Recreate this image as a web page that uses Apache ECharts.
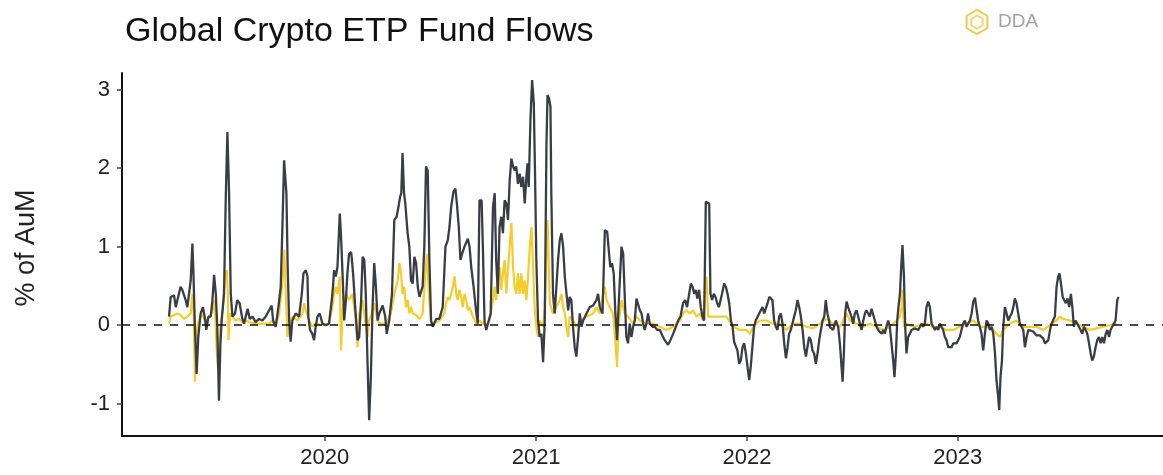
<!DOCTYPE html>
<html><head><meta charset="utf-8">
<script src="https://cdn.jsdelivr.net/npm/echarts@6/dist/echarts.min.js"></script>
<style>html,body{margin:0;padding:0;background:#fff}#c{width:1163px;height:475px}</style>
</head><body><div id="c"></div>
<script>
// Dates are fractional years; values are % of AuM
const rollingFlows = [
[2019.261,0.11],[2019.269,0.36],[2019.277,0.35],[2019.285,0.38],[2019.293,0.23],[2019.301,0.32],[2019.316,0.49],[2019.324,0.45],[2019.340,0.32],[2019.348,0.23],[2019.356,0.40],[2019.364,0.57],[2019.372,1.04],[2019.377,0.66],[2019.383,0.06],[2019.392,-0.62],[2019.400,-0.15],[2019.411,0.15],[2019.422,0.23],[2019.432,0.08],[2019.438,-0.06],[2019.448,0.11],[2019.459,0.11],[2019.467,0.32],[2019.475,0.64],[2019.483,0.40],[2019.490,-0.02],[2019.498,-0.96],[2019.505,-0.23],[2019.511,0.06],[2019.522,0.40],[2019.530,1.59],[2019.538,2.46],[2019.546,1.68],[2019.554,0.40],[2019.562,0.11],[2019.574,0.15],[2019.585,0.32],[2019.596,0.28],[2019.609,0.08],[2019.617,0.02],[2019.625,0.11],[2019.634,0.21],[2019.644,0.08],[2019.657,0.11],[2019.672,0.04],[2019.688,0.08],[2019.704,0.06],[2019.720,0.11],[2019.736,0.19],[2019.748,0.25],[2019.755,0.06],[2019.767,-0.02],[2019.780,0.23],[2019.791,0.49],[2019.799,1.25],[2019.807,2.10],[2019.812,2.12],[2019.818,1.68],[2019.824,0.74],[2019.831,0.06],[2019.838,-0.21],[2019.846,0.06],[2019.862,0.15],[2019.878,0.11],[2019.891,0.40],[2019.899,0.66],[2019.910,0.70],[2019.918,0.62],[2019.922,0.11],[2019.930,-0.06],[2019.941,-0.11],[2019.949,-0.19],[2019.957,-0.02],[2019.965,0.11],[2019.976,0.15],[2019.989,0.02],[2020.005,0.00],[2020.020,0.02],[2020.033,0.32],[2020.039,0.49],[2020.044,0.70],[2020.052,0.62],[2020.060,0.74],[2020.071,1.42],[2020.077,1.13],[2020.084,0.66],[2020.092,0.06],[2020.100,0.32],[2020.107,0.66],[2020.115,0.91],[2020.125,0.93],[2020.134,0.66],[2020.144,0.23],[2020.155,-0.19],[2020.163,-0.15],[2020.172,0.32],[2020.179,0.87],[2020.187,0.83],[2020.194,0.40],[2020.202,-0.45],[2020.210,-1.21],[2020.218,-0.66],[2020.226,0.23],[2020.234,0.79],[2020.242,0.49],[2020.250,0.06],
[2020.258,0.15],[2020.274,0.25],[2020.286,0.11],[2020.293,-0.11],[2020.305,0.06],[2020.318,0.40],[2020.329,1.34],[2020.340,1.38],[2020.349,1.51],[2020.356,1.63],[2020.362,1.68],[2020.368,2.19],[2020.375,1.68],[2020.381,1.55],[2020.392,1.17],[2020.400,1.00],[2020.408,0.57],[2020.416,0.53],[2020.424,0.87],[2020.432,0.79],[2020.440,0.49],[2020.448,0.36],[2020.455,0.34],[2020.463,0.49],[2020.471,1.00],[2020.479,2.02],[2020.487,1.97],[2020.495,0.83],[2020.503,0.06],[2020.511,-0.02],[2020.519,0.00],[2020.527,0.08],[2020.542,0.08],[2020.558,0.23],[2020.571,1.00],[2020.582,1.08],[2020.590,1.25],[2020.598,1.51],[2020.609,1.70],[2020.618,1.74],[2020.625,1.55],[2020.634,1.25],[2020.642,0.83],[2020.650,0.91],[2020.661,1.00],[2020.677,1.10],[2020.685,1.00],[2020.693,0.74],[2020.704,0.49],[2020.717,0.15],[2020.724,0.02],[2020.732,1.59],[2020.742,1.59],[2020.748,1.00],[2020.756,0.04],[2020.764,-0.06],[2020.772,0.02],[2020.785,0.15],[2020.796,1.51],[2020.804,1.68],[2020.811,0.83],[2020.819,0.40],[2020.827,1.25],[2020.835,1.38],[2020.843,1.17],[2020.851,1.59],[2020.859,1.55],[2020.867,1.34],[2020.875,1.85],[2020.883,2.12],[2020.891,2.02],[2020.898,1.97],[2020.906,2.02],[2020.914,1.80],[2020.922,1.93],[2020.930,1.76],[2020.938,1.89],[2020.946,1.55],[2020.954,1.89],[2020.959,2.06],[2020.965,1.76],[2020.973,2.61],[2020.981,3.12],[2020.989,2.82],[2020.995,1.89],[2021.001,0.83],[2021.009,0.06],[2021.017,-0.15],[2021.025,-0.11],[2021.033,-0.47],[2021.041,0.06],[2021.049,2.31],[2021.054,2.93],[2021.061,2.89],[2021.068,2.78],[2021.072,1.68],[2021.080,0.40],[2021.088,0.15],[2021.096,0.49],[2021.104,0.83],[2021.112,1.08],[2021.120,1.17],[2021.128,1.00],[2021.136,0.62],[2021.144,0.40],[2021.152,0.19],[2021.159,0.36],[2021.167,0.32],[2021.175,-0.02],[2021.183,-0.28],[2021.191,-0.40],[2021.199,-0.15],[2021.207,0.15],[2021.215,-0.02],[2021.223,0.06],[2021.239,0.15],[2021.254,0.23],[2021.270,0.25],[2021.286,0.32],[2021.294,0.40],[2021.302,0.23],
[2021.315,0.15],[2021.326,1.21],[2021.337,1.19],[2021.346,0.91],[2021.352,0.74],[2021.360,0.79],[2021.368,0.66],[2021.376,0.15],[2021.384,-0.19],[2021.394,0.40],[2021.405,1.00],[2021.413,0.91],[2021.421,0.32],[2021.428,-0.15],[2021.436,-0.23],[2021.444,0.02],[2021.452,-0.15],[2021.460,-0.02],[2021.468,0.06],[2021.476,0.34],[2021.484,0.32],[2021.492,0.19],[2021.500,0.15],[2021.508,0.02],[2021.515,-0.06],[2021.523,0.02],[2021.531,0.15],[2021.539,0.02],[2021.552,-0.02],[2021.563,-0.02],[2021.574,-0.06],[2021.587,-0.06],[2021.599,-0.13],[2021.610,-0.19],[2021.626,-0.25],[2021.637,-0.19],[2021.650,-0.11],[2021.663,-0.02],[2021.674,0.06],[2021.685,0.11],[2021.697,0.28],[2021.707,0.32],[2021.716,0.23],[2021.726,0.40],[2021.734,0.53],[2021.742,0.49],[2021.750,0.40],[2021.757,0.45],[2021.765,0.34],[2021.773,0.45],[2021.781,0.23],[2021.789,0.11],[2021.797,0.06],[2021.805,1.57],[2021.813,1.59],[2021.821,1.55],[2021.827,0.40],[2021.835,0.32],[2021.843,0.40],[2021.851,0.36],[2021.859,0.28],[2021.867,0.23],[2021.875,0.32],[2021.882,0.40],[2021.892,0.53],[2021.900,0.49],[2021.908,0.40],[2021.916,0.28],[2021.924,0.06],[2021.932,-0.02],[2021.939,-0.21],[2021.947,-0.23],[2021.955,-0.32],[2021.963,-0.49],[2021.971,-0.45],[2021.979,-0.28],[2021.987,-0.23],[2021.995,-0.36],[2022.003,-0.53],[2022.011,-0.70],[2022.018,-0.53],[2022.026,-0.28],[2022.034,-0.02],[2022.042,0.06],[2022.050,0.06],[2022.058,0.15],[2022.066,0.19],[2022.074,0.23],[2022.082,0.15],[2022.090,0.15],[2022.098,0.28],[2022.106,0.36],[2022.113,0.38],[2022.121,0.32],[2022.129,0.06],[2022.137,-0.02],[2022.145,-0.06],[2022.153,0.11],[2022.161,0.15],[2022.169,0.02],[2022.177,-0.23],[2022.185,-0.42],[2022.193,-0.28],[2022.200,-0.11],[2022.208,-0.06],[2022.216,0.02],[2022.224,0.11],[2022.232,0.19],[2022.240,0.32],[2022.248,0.23],[2022.256,0.11],[2022.264,-0.06],[2022.272,-0.28],[2022.280,-0.40],[2022.287,-0.28],[2022.295,-0.15],[2022.303,-0.19],[2022.311,-0.32],[2022.319,-0.36],[2022.327,-0.49],[2022.335,-0.36],[2022.343,-0.19],[2022.351,-0.06],[2022.359,0.06],[2022.367,0.11],[2022.374,0.32],[2022.382,0.15],[2022.390,0.06],
[2022.393,-0.02],[2022.409,-0.06],[2022.422,0.06],[2022.433,-0.02],[2022.441,-0.23],[2022.449,-0.53],[2022.454,-0.72],[2022.460,-0.36],[2022.466,0.15],[2022.473,0.30],[2022.480,0.23],[2022.488,0.21],[2022.496,0.11],[2022.504,0.02],[2022.512,0.15],[2022.520,0.19],[2022.528,0.11],[2022.536,0.02],[2022.544,-0.06],[2022.552,0.06],[2022.560,0.15],[2022.567,0.19],[2022.575,0.15],[2022.583,0.11],[2022.591,0.21],[2022.599,0.23],[2022.607,0.06],[2022.615,-0.02],[2022.623,-0.06],[2022.631,-0.08],[2022.639,-0.11],[2022.647,-0.06],[2022.654,-0.11],[2022.662,-0.02],[2022.670,0.06],[2022.678,-0.02],[2022.686,-0.23],[2022.694,-0.45],[2022.700,-0.66],[2022.707,-0.36],[2022.713,0.06],[2022.719,0.23],[2022.726,0.40],[2022.732,0.74],[2022.738,1.02],[2022.745,0.62],[2022.751,-0.02],[2022.757,-0.36],[2022.765,-0.15],[2022.773,-0.11],[2022.781,-0.06],[2022.789,-0.06],[2022.797,-0.04],[2022.805,-0.02],[2022.813,-0.06],[2022.821,-0.02],[2022.828,0.02],[2022.836,-0.02],[2022.844,0.02],[2022.852,0.23],[2022.860,0.30],[2022.868,0.23],[2022.876,0.02],[2022.884,-0.02],[2022.892,-0.06],[2022.900,-0.02],[2022.908,-0.06],[2022.915,0.02],[2022.923,-0.02],[2022.931,-0.06],[2022.939,-0.15],[2022.947,-0.19],[2022.955,-0.28],[2022.963,-0.28],[2022.971,-0.28],[2022.979,-0.23],[2022.987,-0.25],[2022.995,-0.23],[2023.002,-0.19],[2023.010,-0.15],[2023.018,-0.06],[2023.026,0.02],[2023.034,0.06],[2023.042,-0.02],[2023.050,0.02],[2023.058,0.06],[2023.066,0.15],[2023.074,0.30],[2023.082,0.35],[2023.090,0.19],[2023.097,0.06],[2023.105,-0.02],[2023.113,-0.11],[2023.121,-0.32],[2023.129,-0.11],[2023.137,0.06],[2023.145,0.02],[2023.153,-0.06],[2023.161,-0.02],[2023.169,-0.11],[2023.177,-0.36],[2023.184,-0.70],[2023.192,-0.91],[2023.197,-1.08],[2023.203,-0.66],[2023.210,-0.45],[2023.216,-0.02],[2023.224,0.23],[2023.232,0.15],[2023.240,0.06],[2023.248,0.11],[2023.256,0.15],[2023.264,0.23],[2023.271,0.34],[2023.279,0.28],[2023.287,0.15],[2023.295,0.02],[2023.303,-0.02],[2023.311,-0.06],[2023.319,-0.28],[2023.327,-0.15],[2023.335,-0.06],[2023.343,-0.08],[2023.358,-0.08],[2023.374,-0.13],[2023.390,-0.13],[2023.406,-0.17],[2023.414,-0.23],[2023.422,-0.23],[2023.430,-0.19],[2023.438,-0.06],[2023.445,0.02],[2023.453,0.02],[2023.461,0.11],[2023.469,0.49],[2023.477,0.62],[2023.483,0.66],[2023.490,0.53],[2023.498,0.36],[2023.506,0.38],[2023.513,0.28],[2023.521,0.34],[2023.529,0.23],[2023.537,0.40],[2023.544,0.23],[2023.551,-0.02],[2023.559,0.06],[2023.567,0.02],[2023.575,-0.02],[2023.583,-0.06],[2023.591,-0.11],[2023.599,-0.02],[2023.607,-0.06],[2023.615,-0.11],[2023.623,-0.23],[2023.631,-0.36],[2023.638,-0.45],[2023.646,-0.40],[2023.654,-0.28],[2023.662,-0.19],[2023.670,-0.15],[2023.678,-0.23],[2023.686,-0.15],[2023.694,-0.23],[2023.702,-0.11],[2023.710,-0.06],[2023.718,-0.15],[2023.725,-0.06],[2023.733,-0.02],[2023.741,0.02],[2023.749,0.06],[2023.757,0.32],[2023.763,0.36]
];
const dailyFlows = [
[2019.261,0.02],[2019.269,0.11],[2019.285,0.13],[2019.301,0.15],[2019.316,0.13],[2019.332,0.08],[2019.348,0.11],[2019.364,0.15],[2019.372,0.40],[2019.378,0.15],[2019.384,-0.72],[2019.391,-0.23],[2019.396,-0.02],[2019.403,0.06],[2019.419,0.15],[2019.435,0.02],[2019.451,0.11],[2019.467,0.17],[2019.478,0.32],[2019.487,-0.32],[2019.494,-0.57],[2019.500,-0.23],[2019.506,0.02],[2019.517,0.23],[2019.527,0.66],[2019.535,0.70],[2019.540,0.40],[2019.543,-0.19],[2019.551,0.15],[2019.562,0.11],[2019.577,0.06],[2019.593,0.08],[2019.609,0.04],[2019.625,0.06],[2019.641,0.04],[2019.672,0.02],[2019.704,0.02],[2019.736,0.02],[2019.751,0.06],[2019.767,-0.02],[2019.783,0.15],[2019.794,0.40],[2019.802,0.66],[2019.808,0.96],[2019.815,0.40],[2019.823,-0.15],[2019.831,-0.02],[2019.846,0.11],[2019.870,0.06],[2019.894,0.15],[2019.902,0.28],[2019.910,0.19],[2019.926,0.06],[2019.941,-0.02],[2019.957,0.02],[2019.989,0.00],[2020.020,0.02],[2020.036,0.23],[2020.044,0.40],[2020.052,0.49],[2020.060,0.40],[2020.071,0.62],[2020.077,-0.32],[2020.084,0.19],[2020.100,0.40],[2020.115,0.32],[2020.131,0.40],[2020.147,0.06],[2020.155,-0.28],[2020.163,0.15],[2020.179,0.32],[2020.191,0.06],[2020.202,-0.15],[2020.210,0.06],[2020.223,0.15],[2020.234,0.28],[2020.250,0.06],
[2020.258,0.02],[2020.289,0.02],[2020.313,0.15],[2020.329,0.40],[2020.345,0.57],[2020.353,0.79],[2020.361,0.66],[2020.368,0.40],[2020.376,0.49],[2020.384,0.23],[2020.392,0.32],[2020.400,0.15],[2020.408,0.23],[2020.416,0.15],[2020.432,0.13],[2020.448,0.08],[2020.463,0.15],[2020.476,0.66],[2020.484,0.91],[2020.492,0.40],[2020.503,0.02],[2020.519,0.02],[2020.542,0.06],[2020.566,0.15],[2020.574,0.28],[2020.582,0.36],[2020.590,0.32],[2020.598,0.40],[2020.606,0.49],[2020.614,0.62],[2020.622,0.40],[2020.629,0.32],[2020.637,0.45],[2020.645,0.36],[2020.653,0.23],[2020.661,0.40],[2020.669,0.32],[2020.677,0.19],[2020.685,0.23],[2020.701,0.11],[2020.717,0.02],[2020.732,0.06],[2020.748,0.02],[2020.764,0.00],[2020.780,0.06],[2020.796,0.32],[2020.804,0.49],[2020.811,0.32],[2020.819,0.62],[2020.827,0.74],[2020.835,0.45],[2020.843,0.66],[2020.851,0.83],[2020.859,0.40],[2020.867,0.74],[2020.875,1.00],[2020.883,1.30],[2020.891,0.74],[2020.898,0.49],[2020.906,0.40],[2020.914,0.66],[2020.922,0.40],[2020.930,0.66],[2020.938,0.40],[2020.946,0.57],[2020.954,0.32],[2020.962,0.62],[2020.970,1.00],[2020.978,1.25],[2020.985,0.79],[2020.993,0.23],[2021.001,-0.02],[2021.009,-0.15],[2021.017,0.06],[2021.033,-0.02],[2021.041,0.23],[2021.049,1.00],[2021.054,1.34],[2021.060,0.74],[2021.065,0.28],[2021.080,0.15],[2021.096,0.23],[2021.112,0.32],[2021.120,0.40],[2021.128,0.23],[2021.136,0.15],[2021.144,-0.02],[2021.152,-0.15],[2021.159,0.11],[2021.175,0.06],[2021.191,-0.02],[2021.207,0.06],[2021.239,0.11],[2021.270,0.15],[2021.286,0.23],[2021.302,0.15],[2021.318,0.40],[2021.326,0.49],[2021.334,0.32],[2021.349,0.23],[2021.365,0.15],[2021.378,-0.28],[2021.384,-0.53],[2021.390,-0.02],[2021.405,0.32],[2021.421,0.15],[2021.436,0.11],
[2021.460,0.02],[2021.476,0.11],[2021.492,0.06],[2021.523,0.02],[2021.555,0.02],[2021.587,-0.02],[2021.618,-0.06],[2021.650,-0.02],[2021.682,0.06],[2021.697,0.15],[2021.713,0.19],[2021.729,0.15],[2021.745,0.19],[2021.761,0.11],[2021.776,0.15],[2021.792,0.06],[2021.800,0.40],[2021.808,0.62],[2021.816,0.11],[2021.843,0.11],[2021.871,0.11],[2021.903,0.11],[2021.935,-0.02],[2021.966,-0.06],[2021.998,-0.06],[2022.014,-0.11],[2022.030,-0.02],[2022.061,0.06],[2022.093,0.06],[2022.124,0.02],[2022.156,0.02],[2022.188,-0.06],[2022.219,0.02],[2022.251,0.02],[2022.283,-0.02],[2022.314,-0.04],[2022.346,0.02],[2022.378,0.08],[2022.409,0.02],[2022.441,-0.02],[2022.473,0.15],[2022.488,0.06],[2022.520,0.02],[2022.552,-0.02],[2022.583,0.02],[2022.615,-0.02],[2022.647,-0.06],[2022.678,-0.02],[2022.710,0.06],[2022.726,0.11],[2022.734,0.23],[2022.738,0.45],[2022.745,-0.02],[2022.757,0.02],[2022.789,-0.02],[2022.821,0.00],[2022.852,0.02],[2022.884,-0.02],[2022.915,-0.02],[2022.947,-0.06],[2022.979,-0.06],[2023.010,-0.02],[2023.042,0.02],[2023.074,0.06],[2023.105,-0.02],[2023.137,-0.02],[2023.169,-0.06],[2023.184,-0.11],[2023.200,-0.15],[2023.216,-0.06],[2023.248,0.02],[2023.279,0.06],[2023.311,-0.02],[2023.343,-0.02],[2023.374,-0.02],[2023.406,-0.06],[2023.438,0.00],[2023.469,0.06],[2023.485,0.11],[2023.498,0.08],[2023.532,0.06],[2023.564,0.02],[2023.596,-0.02],[2023.627,-0.06],[2023.659,-0.04],[2023.691,-0.02],[2023.722,0.00],[2023.754,0.02]
];
const yearTicks = [2020, 2021, 2022, 2023];
const valueTicks = [-1, 0, 1, 2, 3];
const titleText = 'Global Crypto ETP Fund Flows';
const yAxisTitle = '% of AuM';
const logoText = 'DDA';

function toTime(y) {
  const yr = Math.floor(y);
  const a = Date.UTC(yr, 0, 1), b = Date.UTC(yr + 1, 0, 1);
  return a + (y - yr) * (b - a);
}
const FONT = "'Liberation Sans', Arial, Helvetica, sans-serif";
const chart = echarts.init(document.getElementById('c'), null, { renderer: 'canvas' });

function hexPoints(cx, cy, r) {
  const pts = [];
  for (let i = 0; i < 6; i++) {
    const a = Math.PI / 6 + i * Math.PI / 3;
    pts.push([cx + r * Math.cos(a), cy + r * Math.sin(a)]);
  }
  return pts;
}

chart.setOption({
  animation: false,
  backgroundColor: '#ffffff',
  grid: { left: 122, right: 0, top: 73, bottom: 39, outerBoundsMode: 'none', containLabel: false },
  xAxis: {
    type: 'value',
    min: toTime(2019.038),
    max: toTime(2023.974),
    axisLine: { show: true, onZero: false, lineStyle: { color: '#111', width: 2 } },
    axisTick: { show: true, length: 5, lineStyle: { color: '#444', width: 1.5 }, customValues: yearTicks.map(toTime) },
    axisLabel: {
      customValues: yearTicks.map(toTime),
      formatter: v => String(new Date(v).getUTCFullYear()),
      fontSize: 22, color: '#222', fontFamily: FONT, margin: 11
    },
    splitLine: { show: false }
  },
  yAxis: {
    type: 'value',
    min: -1.41, max: 3.21,
    axisLine: { show: true, onZero: false, lineStyle: { color: '#111', width: 2 } },
    axisTick: { show: true, length: 5, lineStyle: { color: '#444', width: 1.5 }, customValues: valueTicks },
    axisLabel: { customValues: valueTicks, fontSize: 22, color: '#222', fontFamily: FONT, margin: 12 },
    splitLine: { show: false }
  },
  graphic: [
    { type: 'text', left: 125, top: 15, style: { text: titleText, font: '34px ' + FONT, fill: '#111' } },
    { type: 'text', x: 27, y: 248, rotation: Math.PI / 2,
      style: { text: yAxisTitle, font: '27px ' + FONT, fill: '#222', align: 'center', verticalAlign: 'middle' } },
    { type: 'polygon', shape: { points: hexPoints(977, 22, 12) }, style: { fill: 'none', stroke: '#EDCB4C', lineWidth: 2 } },
    { type: 'polygon', shape: { points: hexPoints(977, 22, 6.5) }, style: { fill: 'none', stroke: '#F2D86E', lineWidth: 2 } },
    { type: 'text', x: 998, y: 22, style: { text: logoText, font: '19px ' + FONT, fill: '#a3a3a3', verticalAlign: 'middle', align: 'left' } }
  ],
  series: [
    {
      name: 'Daily', type: 'line', z: 2,
      data: dailyFlows.map(p => [toTime(p[0]), p[1]]),
      showSymbol: false, symbol: 'none',
      lineStyle: { color: '#F5CC2C', width: 2.2 }
    },
    {
      name: 'Rolling', type: 'line', z: 3,
      data: rollingFlows.map(p => [toTime(p[0]), p[1]]),
      showSymbol: false, symbol: 'none',
      lineStyle: { color: '#3A3D45', width: 2.3 },
      markLine: {
        silent: true, symbol: ['none', 'none'], label: { show: false },
        lineStyle: { color: '#111', type: [8, 8], width: 1.6 },
        data: [{ yAxis: 0 }]
      }
    }
  ]
});
</script>
</body></html>
